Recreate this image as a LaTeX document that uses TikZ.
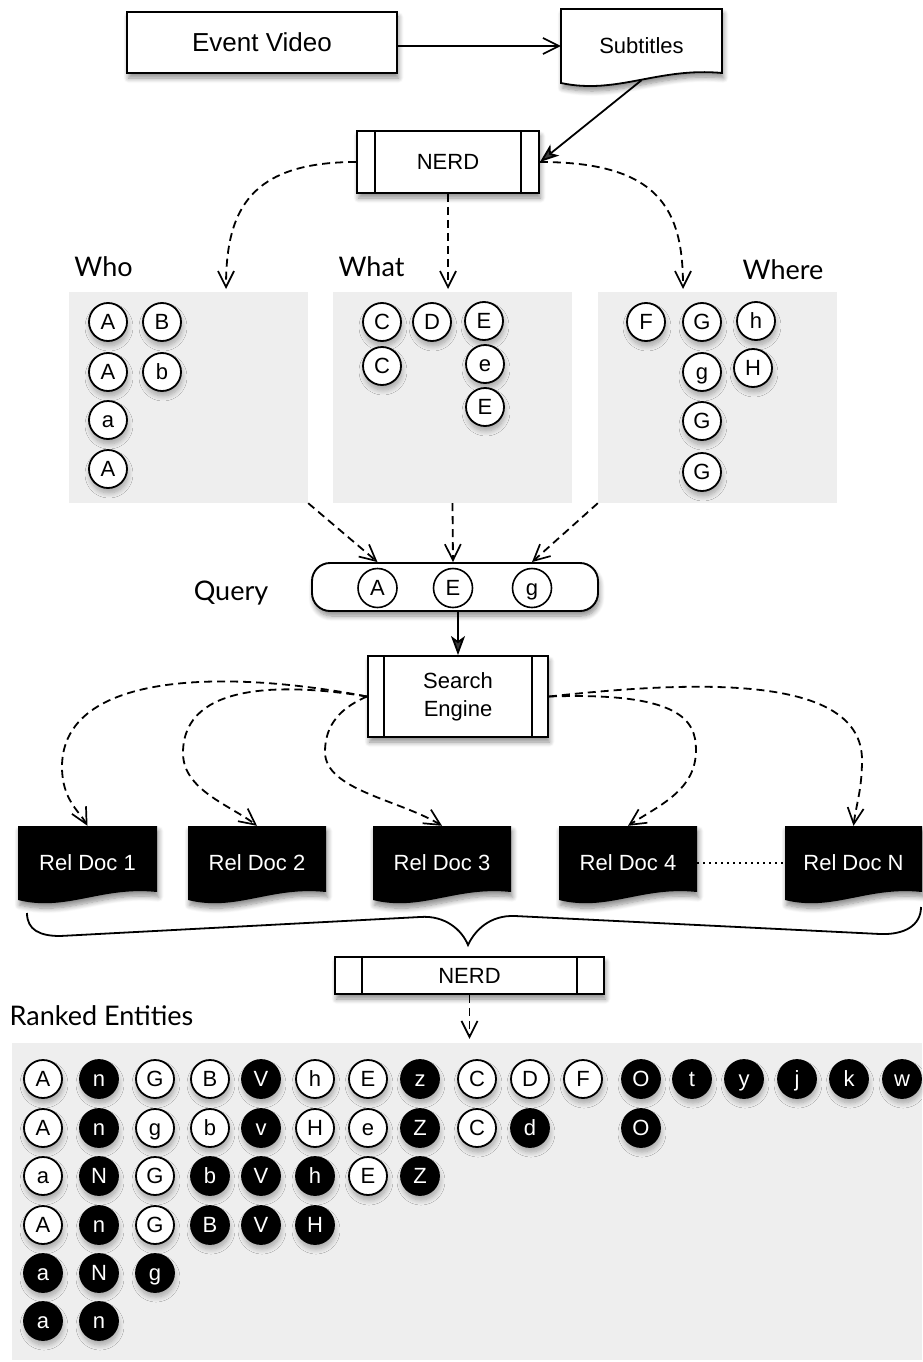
\documentclass[tikz,border=0pt]{standalone}
\usepackage{fontspec}
\setmainfont{Liberation Sans}
\newfontfamily\labelfont{Lato}
\usetikzlibrary{arrows.meta,shadows.blur,calc}
\definecolor{graybg}{HTML}{EEEEEE}
\begin{document}
\begin{tikzpicture}[x=1pt,y=-1pt,
 sh/.style={blur shadow={shadow xshift=1.5pt,shadow yshift=-5pt,shadow blur radius=5pt,shadow blur steps=8,shadow opacity=45}},
 csh/.style={blur shadow={shadow xshift=1pt,shadow yshift=-5pt,shadow blur radius=5pt,shadow blur steps=8,shadow opacity=30}},
 sfont/.style={font=\fontsize{22}{28}\selectfont},
 boxs/.style={draw, line width=1.9pt, fill=white, inner sep=0pt, sh, sfont},
 lab/.style={font=\labelfont\fontsize{27}{30}\selectfont, anchor=base, inner sep=0pt},
 ew/.style={circle, draw, line width=1.8pt, fill=white, minimum size=38pt, inner sep=0pt, font=\fontsize{22}{22}\selectfont, text height=15.5pt, text depth=0pt, csh},
 eb/.style={ew, fill=black, text=white},
 eq/.style={circle, draw, line width=1.6pt, fill=white, minimum size=39pt, inner sep=0pt, font=\fontsize{22}{22}\selectfont, text height=15.5pt, text depth=0pt},
 gbox/.style={fill=graybg, inner sep=0pt},
 barb/.style={-{Straight Barb[length=16pt,width=16pt,line width=1.7pt]}},
 stl/.style={-{Stealth[length=19pt,width=14pt,inset=5pt]}},
 dsh/.style={line width=1.8pt, dash pattern=on 8pt off 5pt},
 ln/.style={line width=1.8pt},
]
\useasboundingbox (0,0) rectangle (922,1362);

% top
\node[boxs, minimum width=270pt, minimum height=61pt, font=\fontsize{26}{30}\selectfont] (ev) at (262,42.5) {Event Video};
\draw[ln, fill=white, sh] (561,9) -- (722,9) -- (722,73) .. controls (658,67) and (617,95) .. (561,83) -- cycle;
\node[sfont, minimum width=161pt, minimum height=74pt, inner sep=0pt] (sub) at (641.5,46) {Subtitles};
\node[boxs, minimum width=182pt, minimum height=62pt] (nerd) at (448,162) {NERD};

\draw[ln, barb] (ev.east |- sub.west) -- (sub.west);
\draw[ln, stl] ([yshift=3pt]sub.south) -- (nerd.east);

% categories
\node[gbox, minimum width=239pt, minimum height=211pt] (who) at (188.5,397.5) {};
\node[gbox, minimum width=239pt, minimum height=211pt] (what) at (452.5,397.5) {};
\node[gbox, minimum width=239pt, minimum height=211pt] (where) at (717.5,397.5) {};
\node[lab] (lwho) at (103.5,276) {Who};
\node[lab] (lwhat) at (371.5,276) {What};
\node[lab] (lwhere) at (783,279) {Where};

\coordinate (twho) at (226,289);
\coordinate (twhat) at (448,289);
\coordinate (twhere) at (683,289);
\draw[dsh, barb] (nerd.west) .. controls (250,162) and (226,210) .. (twho);
\draw[dsh, barb] (nerd.south) -- (twhat);
\draw[dsh, barb] (nerd.east) .. controls (660,162) and (683,210) .. (twhere);

\node[ew] (w1) at (108,322) {A};
\node[ew] (w2) at (162,322) {B};
\node[ew] (w3) at (108,372) {A};
\node[ew] (w4) at (162,372) {b};
\node[ew] (w5) at (108,420) {a};
\node[ew] (w6) at (108,469) {A};

\node[ew] (t1) at (382,322) {C};
\node[ew] (t2) at (432,322) {D};
\node[ew] (t3) at (484,321) {E};
\node[ew] (t4) at (382,366) {C};
\node[ew] (t5) at (485,364) {e};
\node[ew] (t6) at (485,407) {E};

\node[ew] (h1) at (646,322) {F};
\node[ew] (h2) at (702,322) {G};
\node[ew] (h3) at (756,321) {h};
\node[ew] (h4) at (702,372) {g};
\node[ew] (h5) at (753,368) {H};
\node[ew] (h6) at (702,421) {G};
\node[ew] (h7) at (702,472) {G};

% query
\node[draw, line width=1.9pt, fill=white, rounded corners=18pt, minimum width=286pt, minimum height=48pt, sh] (query) at (455,587) {};
\node[eq] (qA) at (377.5,588) {A};
\node[eq] (qE) at (453,588) {E};
\node[eq] (qg) at (532,588) {g};
\node[lab] (lq) at (231,600) {Query};

\draw[dsh, barb] (who.south east) -- (qA |- query.north);
\draw[dsh, barb] (what.south) -- (qE |- query.north);
\draw[dsh, barb] (where.south west) -- (qg |- query.north);

\node[boxs, minimum width=180pt, minimum height=81pt, align=center] (search) at (458,696.5) {Search\\Engine};
\draw[ln, stl] (search.north |- query.south) -- (search.north);

% documents
\foreach \a/\b/\nm/\t in {18/157/d1/Rel Doc 1, 188/326/d2/Rel Doc 2, 373/511/d3/Rel Doc 3, 559/697/d4/Rel Doc 4, 785/922/dN/Rel Doc N}{
  \fill[sh] (\a,826) -- (\b,826) -- (\b,892) .. controls ({\a+0.6*(\b-\a)},886) and ({\a+0.35*(\b-\a)},912) .. (\a,900) -- cycle;
  \node[sfont, text=white, inner sep=0pt, minimum height=74pt, minimum width={\b-\a}] (\nm) at ({(\a+\b)/2},863) {\t};
}

\draw[dsh, barb] (search.west) .. controls (230,670) and (62,670) .. (62,767) .. controls (62,800) and (80,812) .. (d1.north);
\draw[dsh, barb] (search.west) .. controls (290,684) and (183,680) .. (183,753) .. controls (183,790) and (230,805) .. (d2.north);
\draw[dsh, barb] (search.west) .. controls (335,710) and (325,730) .. (325,752) .. controls (325,790) and (400,800) .. (d3.north);
\draw[dsh, barb] (search.east) .. controls (680,692) and (696,720) .. (696,750) .. controls (696,790) and (660,805) .. (d4.north);
\draw[dsh, barb] (search.east) .. controls (700,680) and (862,675) .. (862,760) .. controls (862,790) and (856,805) .. (dN.north);

\draw[line width=1.8pt, dash pattern=on 2pt off 4pt] (d4.east) -- (dN.west);

% brace
\draw[ln] (27,913) .. controls (27,930) and (40,936) .. (60,936) -- (420,917) .. controls (445,915) and (462,930) .. (468,945) .. controls (475,930) and (490,915) .. (515,916) -- (880,934) .. controls (905,935) and (921,925) .. (921,907);

\node[boxs, minimum width=269pt, minimum height=37pt] (nerdb) at (469.5,975.5) {NERD};

\foreach \n/\d in {nerd/19,search/17,nerdb/28}{
  \draw[ln] ([xshift=\d pt]\n.north west) -- ([xshift=\d pt]\n.south west);
  \draw[ln] ([xshift=-\d pt]\n.north east) -- ([xshift=-\d pt]\n.south east);
}

% ranked
\node[lab] (lrank) at (101.5,1025) {Ranked Entities};
\node[gbox, minimum width=910pt, minimum height=317pt] (ranked) at (467,1201.5) {};
\draw[dsh, barb] (nerdb.south) -- ([yshift=4pt]nerdb.south |- ranked.north);

\foreach \x/\l/\s [count=\i] in {43/A/ew,99/n/eb,155/G/ew,210/B/ew,261/V/eb,315/h/ew,368/E/ew,420/z/eb,477/C/ew,530/D/ew,583/F/ew,641/O/eb,692/t/eb,744/y/eb,797/j/eb,849/k/eb,902/w/eb}
  \node[\s] (ra\i) at (\x,1079) {\l};
\foreach \x/\l/\s [count=\i] in {43/A/ew,99/n/eb,155/g/ew,210/b/ew,261/v/eb,315/H/ew,368/e/ew,420/Z/eb,477/C/ew,530/d/eb,641/O/eb}
  \node[\s] (rb\i) at (\x,1128) {\l};
\foreach \x/\l/\s [count=\i] in {43/a/ew,99/N/eb,155/G/ew,210/b/eb,261/V/eb,315/h/eb,368/E/ew,420/Z/eb}
  \node[\s] (rc\i) at (\x,1176) {\l};
\foreach \x/\l/\s [count=\i] in {43/A/ew,99/n/eb,155/G/ew,210/B/eb,261/V/eb,315/H/eb}
  \node[\s] (rd\i) at (\x,1225) {\l};
\foreach \x/\l/\s [count=\i] in {43/a/eb,99/N/eb,155/g/eb}
  \node[\s] (re\i) at (\x,1273) {\l};
\foreach \x/\l/\s [count=\i] in {43/a/eb,99/n/eb}
  \node[\s] (rf\i) at (\x,1321) {\l};
\end{tikzpicture}
\end{document}
